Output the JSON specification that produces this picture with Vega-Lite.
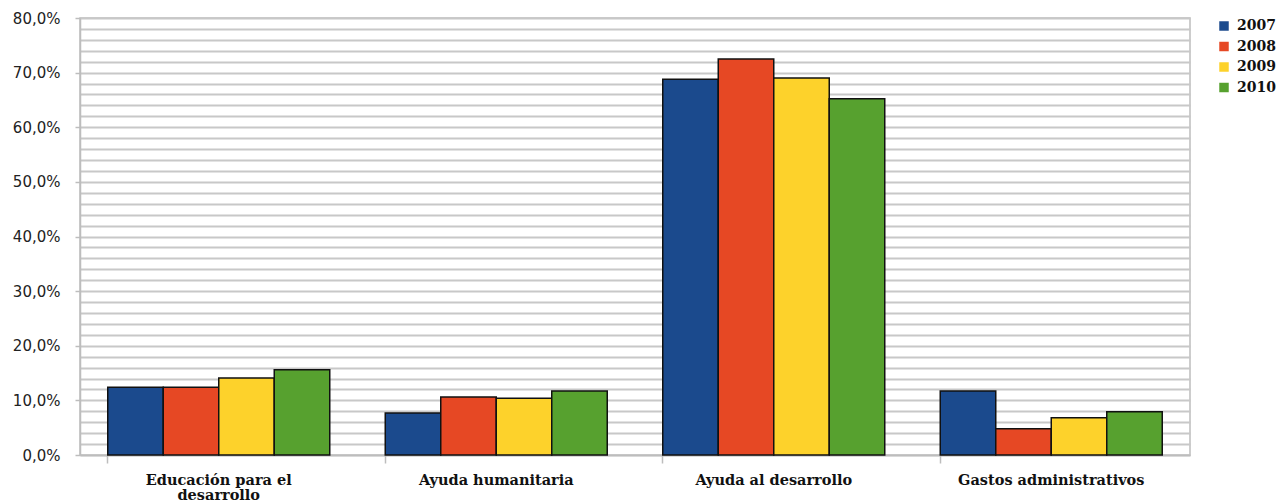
{
  "$schema": "https://vega.github.io/schema/vega-lite/v6.json",
  "width": 1110,
  "height": 437,
  "autosize": {"type": "none"},
  "padding": {"left": 80, "top": 18, "right": 89, "bottom": 49},
  "background": "white",
  "config": {
    "view": {"stroke": "#bdbdbd", "strokeWidth": 1.5},
    "axis": {"labelFont": "DejaVu Sans", "labelColor": "#222"}
  },
  "data": {
    "values": [
      {"cat": "Educación para el desarrollo", "year": "2007", "value": 12.4},
      {"cat": "Educación para el desarrollo", "year": "2008", "value": 12.4},
      {"cat": "Educación para el desarrollo", "year": "2009", "value": 14.1},
      {"cat": "Educación para el desarrollo", "year": "2010", "value": 15.6},
      {"cat": "Ayuda humanitaria", "year": "2007", "value": 7.7},
      {"cat": "Ayuda humanitaria", "year": "2008", "value": 10.6},
      {"cat": "Ayuda humanitaria", "year": "2009", "value": 10.4},
      {"cat": "Ayuda humanitaria", "year": "2010", "value": 11.7},
      {"cat": "Ayuda al desarrollo", "year": "2007", "value": 68.8},
      {"cat": "Ayuda al desarrollo", "year": "2008", "value": 72.5},
      {"cat": "Ayuda al desarrollo", "year": "2009", "value": 69.0},
      {"cat": "Ayuda al desarrollo", "year": "2010", "value": 65.2},
      {"cat": "Gastos administrativos", "year": "2007", "value": 11.7},
      {"cat": "Gastos administrativos", "year": "2008", "value": 4.8},
      {"cat": "Gastos administrativos", "year": "2009", "value": 6.8},
      {"cat": "Gastos administrativos", "year": "2010", "value": 7.9}
    ]
  },
  "resolve": {"axis": {"x": "independent", "y": "independent"}},
  "layer": [
    {
      "mark": {"type": "bar", "stroke": "#111", "strokeWidth": 1.5},
      "encoding": {
        "x": {
          "field": "cat", "type": "nominal", "sort": null,
          "scale": {"paddingInner": 0.2, "paddingOuter": 0.1},
          "axis": {
            "orient": "bottom", "title": null, "labelAngle": 0, "ticks": false,
            "domainColor": "#bdbdbd", "domainWidth": 1.5,
            "labelFont": "DejaVu Serif", "labelFontWeight": "bold", "labelFontSize": 14.5,
            "labelColor": "#111", "labelPadding": 18, "labelLineHeight": 15, "labelBaseline": "top",
            "labelLimit": 400,
            "labelExpr": "datum.value == 'Educación para el desarrollo' ? ['Educación para el', 'desarrollo'] : datum.value"
          }
        },
        "xOffset": {"field": "year", "type": "nominal", "scale": {"paddingInner": 0, "paddingOuter": 0}},
        "y": {
          "field": "value", "type": "quantitative",
          "scale": {"domain": [0, 80], "nice": false},
          "axis": {
            "orient": "left", "title": null, "labels": false, "ticks": false, "domain": false,
            "values": [0,2,4,6,8,10,12,14,16,18,20,22,24,26,28,30,32,34,36,38,40,42,44,46,48,50,52,54,56,58,60,62,64,66,68,70,72,74,76,78,80],
            "gridColor": "#c8c8c8", "gridWidth": 2
          }
        },
        "color": {
          "field": "year", "type": "nominal",
          "scale": {"domain": ["2007", "2008", "2009", "2010"], "range": ["#1b4a8d", "#e64824", "#fdd22b", "#57a12f"]},
          "legend": {
            "title": null, "orient": "none", "legendX": 1137, "legendY": 1,
            "symbolType": "square", "symbolSize": 90, "symbolStrokeWidth": 0,
            "labelFont": "DejaVu Serif", "labelFontWeight": "bold", "labelFontSize": 14,
            "labelColor": "#111", "rowPadding": 6.5, "labelOffset": 6
          }
        }
      }
    },
    {
      "mark": {"type": "point", "opacity": 0},
      "encoding": {
        "x": {
          "field": "cat", "type": "nominal", "sort": null,
          "axis": {
            "orient": "bottom", "title": null, "labels": false, "domain": false,
            "bandPosition": 0, "ticks": true, "tickSize": 8, "tickColor": "#bdbdbd", "tickWidth": 1.5
          }
        },
        "y": {
          "field": "value", "type": "quantitative",
          "axis": {
            "orient": "left", "title": null, "grid": false, "domainColor": "#bdbdbd", "domainWidth": 1.5,
            "values": [0, 10, 20, 30, 40, 50, 60, 70, 80],
            "tickSize": 5, "tickColor": "#bdbdbd", "tickWidth": 1.5,
            "labelFontSize": 15, "labelPadding": 15, "labelColor": "#222",
            "labelExpr": "replace(format(datum.value, '.1f'), '.', ',') + '%'"
          }
        }
      }
    }
  ]
}
